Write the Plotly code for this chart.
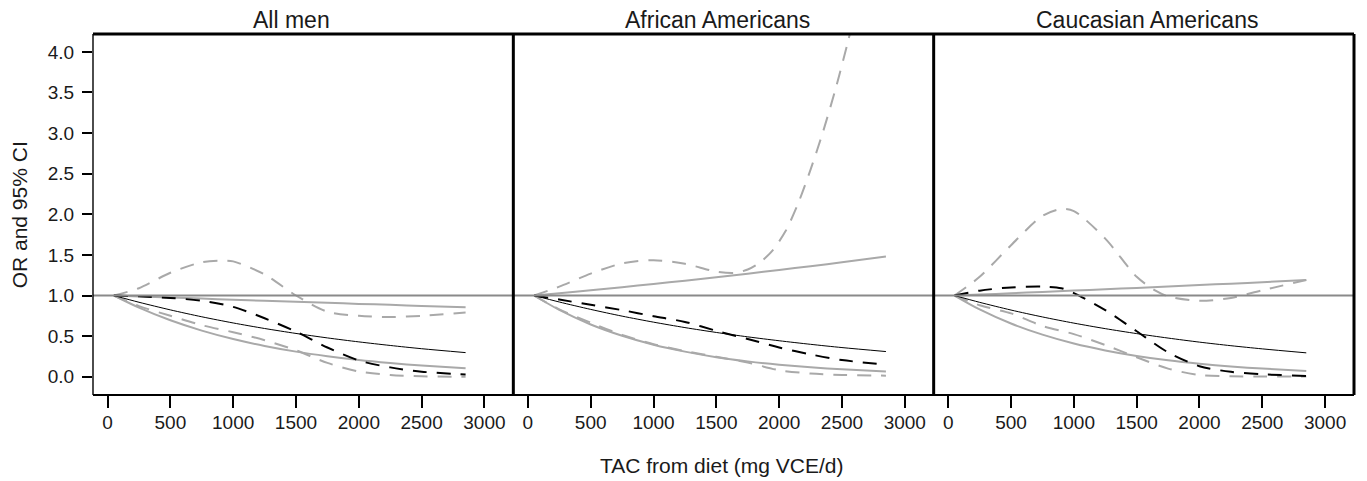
import plotly.graph_objects as go
from plotly.subplots import make_subplots

# ---------------- data ----------------
panel_titles = ["All men", "African Americans", "Caucasian Americans"]
x_label = "TAC from diet (mg VCE/d)"
y_label = "OR and 95% CI"
x_ticks = [0, 500, 1000, 1500, 2000, 2500, 3000]
y_ticks = [0.0, 0.5, 1.0, 1.5, 2.0, 2.5, 3.0, 3.5, 4.0]

tac = [50, 250, 500, 750, 1000, 1250, 1500, 1750, 2000, 2250, 2500, 2850]

# All men
men_lin_or = [1.0, 0.917, 0.823, 0.738, 0.662, 0.594, 0.533, 0.478, 0.429, 0.385, 0.345, 0.297]
men_lin_hi = [1.0, 0.989, 0.975, 0.962, 0.948, 0.935, 0.922, 0.910, 0.897, 0.885, 0.872, 0.855]
men_lin_lo = [1.0, 0.851, 0.695, 0.568, 0.464, 0.379, 0.309, 0.253, 0.206, 0.169, 0.138, 0.104]
men_spl_or = [1.0, 0.99, 0.97, 0.935, 0.86, 0.72, 0.555, 0.36, 0.20, 0.115, 0.062, 0.028]
men_spl_hi_x = [50, 250, 500, 750, 900, 1000, 1250, 1500, 1750, 2000, 2250, 2500, 2850]
men_spl_hi = [1.0, 1.09, 1.28, 1.41, 1.43, 1.42, 1.26, 1.0, 0.80, 0.75, 0.735, 0.75, 0.79]
men_spl_lo = [1.0, 0.87, 0.75, 0.635, 0.548, 0.45, 0.325, 0.17, 0.065, 0.022, 0.005, 0.0]

# African Americans
aa_lin_or = [1.0, 0.920, 0.829, 0.746, 0.672, 0.605, 0.545, 0.491, 0.443, 0.399, 0.359, 0.310]
aa_lin_hi = [1.0, 1.028, 1.065, 1.103, 1.142, 1.183, 1.225, 1.269, 1.314, 1.361, 1.409, 1.479]
aa_lin_lo = [1.0, 0.822, 0.643, 0.504, 0.394, 0.309, 0.241, 0.189, 0.148, 0.116, 0.091, 0.064]
aa_spl_or = [1.0, 0.95, 0.885, 0.82, 0.745, 0.675, 0.565, 0.465, 0.36, 0.275, 0.205, 0.15]
aa_spl_hi_x = [50, 250, 500, 750, 1000, 1250, 1500, 1650, 1750, 1850, 1950, 2050,
               2150, 2250, 2350, 2450, 2550, 2650]
aa_spl_hi = [1.0, 1.11, 1.27, 1.395, 1.435, 1.39, 1.295, 1.28, 1.32, 1.41, 1.56, 1.79,
             2.13, 2.55, 3.02, 3.55, 4.14, 4.8]
aa_spl_lo = [1.0, 0.83, 0.665, 0.515, 0.40, 0.315, 0.245, 0.175, 0.08, 0.04, 0.022, 0.013]

# Caucasian Americans
ca_lin_or = [1.0, 0.916, 0.821, 0.736, 0.660, 0.592, 0.531, 0.476, 0.426, 0.382, 0.343, 0.294]
ca_lin_hi = [1.0, 1.012, 1.028, 1.044, 1.061, 1.077, 1.094, 1.111, 1.129, 1.146, 1.164, 1.19]
ca_lin_lo = [1.0, 0.829, 0.655, 0.518, 0.409, 0.324, 0.256, 0.202, 0.160, 0.126, 0.100, 0.072]
ca_spl_or_x = [50, 250, 500, 750, 900, 1000, 1250, 1500, 1750, 2000, 2250, 2500, 2850]
ca_spl_or = [1.0, 1.06, 1.10, 1.11, 1.09, 1.03, 0.82, 0.56, 0.30, 0.13, 0.06, 0.03, 0.01]
ca_spl_hi_x = [50, 250, 500, 750, 900, 1000, 1250, 1500, 1650, 1750, 2000, 2250, 2500, 2850]
ca_spl_hi = [1.0, 1.23, 1.62, 1.98, 2.065, 2.04, 1.70, 1.23, 1.06, 0.99, 0.935, 0.97, 1.065, 1.19]
ca_spl_lo = [1.0, 0.88, 0.78, 0.625, 0.525, 0.39, 0.24, 0.10, 0.02, 0.005, 0.003, 0.003]

panels = [
    dict(lin_or=men_lin_or, lin_hi=men_lin_hi, lin_lo=men_lin_lo,
         spl_or_x=tac, spl_or=men_spl_or, spl_hi_x=men_spl_hi_x, spl_hi=men_spl_hi,
         spl_lo=men_spl_lo),
    dict(lin_or=aa_lin_or, lin_hi=aa_lin_hi, lin_lo=aa_lin_lo,
         spl_or_x=tac, spl_or=aa_spl_or, spl_hi_x=aa_spl_hi_x, spl_hi=aa_spl_hi,
         spl_lo=aa_spl_lo),
    dict(lin_or=ca_lin_or, lin_hi=ca_lin_hi, lin_lo=ca_lin_lo,
         spl_or_x=ca_spl_or_x, spl_or=ca_spl_or, spl_hi_x=ca_spl_hi_x, spl_hi=ca_spl_hi,
         spl_lo=ca_spl_lo),
]

# ---------------- styling ----------------
GRAY = "#a9a9a9"
REF = "#8a8a8a"
FONT = "Liberation Sans, Arial, sans-serif"
TXT = "#1a1a1a"
DASH = "14px,10px"

fig = make_subplots(rows=1, cols=3, shared_yaxes=True, horizontal_spacing=0)

def add(col, x, y, color, width, dash="solid"):
    fig.add_trace(go.Scatter(x=x, y=y, mode="lines",
                             line=dict(color=color, width=width, dash=dash,
                                       shape="spline", smoothing=0.8),
                             showlegend=False, hoverinfo="skip"),
                  row=1, col=col)

for i, p in enumerate(panels):
    c = i + 1
    add(c, tac, p["lin_hi"], GRAY, 2)
    add(c, tac, p["lin_lo"], GRAY, 2)
    add(c, p["spl_hi_x"], p["spl_hi"], GRAY, 2, DASH)
    add(c, tac, p["spl_lo"], GRAY, 2, DASH)
    add(c, tac, p["lin_or"], "black", 1)
    add(c, p["spl_or_x"], p["spl_or"], "black", 2, DASH)
    sfx = "" if c == 1 else str(c)
    fig.add_shape(type="line", xref=f"x{sfx} domain", yref=f"y{sfx}",
                  x0=0, x1=1, y0=1.0, y1=1.0, line=dict(color=REF, width=2), layer="above")

for c in range(1, 4):
    fig.update_xaxes(range=[-116, 3230], tickvals=x_ticks, ticks="outside", ticklen=12,
                     tickwidth=2, tickcolor="black", showline=False, showgrid=False,
                     zeroline=False, tickfont=dict(family=FONT, size=19, color=TXT),
                     ticklabelstandoff=-2, row=1, col=c)
    fig.update_yaxes(range=[-0.225, 4.22], showline=False, showgrid=False, zeroline=False,
                     row=1, col=c)

fig.update_yaxes(tickvals=y_ticks, tickformat=".1f", ticks="outside", ticklen=10,
                 tickwidth=2, tickcolor="black",
                 tickfont=dict(family=FONT, size=19, color=TXT),
                 ticklabelstandoff=4, row=1, col=1)

# panel frames (thicknesses as in the reference)
frame = [
    (0, 0, 0, 1, 1.4),          # left outer
    (1, 0, 1, 1, 3),            # right outer
    (1 / 3, 0, 1 / 3, 1, 3),    # divider
    (2 / 3, 0, 2 / 3, 1, 3),    # divider
    (0, 1, 1, 1, 3),            # top
    (0, 0, 1, 0, 2),            # bottom
]
for x0, y0, x1, y1, w in frame:
    fig.add_shape(type="line", xref="paper", yref="paper", x0=x0, y0=y0, x1=x1, y1=y1,
                  line=dict(color="black", width=w), layer="above")

title_x = [0.1576, 0.4956, 0.8356]
for t, xp in zip(panel_titles, title_x):
    fig.add_annotation(text=t, x=xp, y=1.039, xref="paper", yref="paper",
                       showarrow=False, xanchor="center", yanchor="middle",
                       font=dict(family=FONT, size=23, color=TXT))

fig.add_annotation(text=x_label, x=0.4988, y=-0.194, xref="paper", yref="paper",
                   showarrow=False, xanchor="center", yanchor="middle",
                   font=dict(family=FONT, size=21, color=TXT))
fig.add_annotation(text=y_label, x=-0.058, y=0.5, xref="paper", yref="paper",
                   showarrow=False, xanchor="center", yanchor="middle", textangle=-90,
                   font=dict(family=FONT, size=21, color=TXT))

fig.update_layout(width=1367, height=481, margin=dict(l=93, r=13, t=34, b=86),
                  paper_bgcolor="white", plot_bgcolor="white", showlegend=False)

# remove the browser's default 8px body margin so the figure fills the window
fig.write_html("out.html", config={"displayModeBar": False},
               post_script="document.body.style.margin='0';document.body.style.overflow='hidden';")
